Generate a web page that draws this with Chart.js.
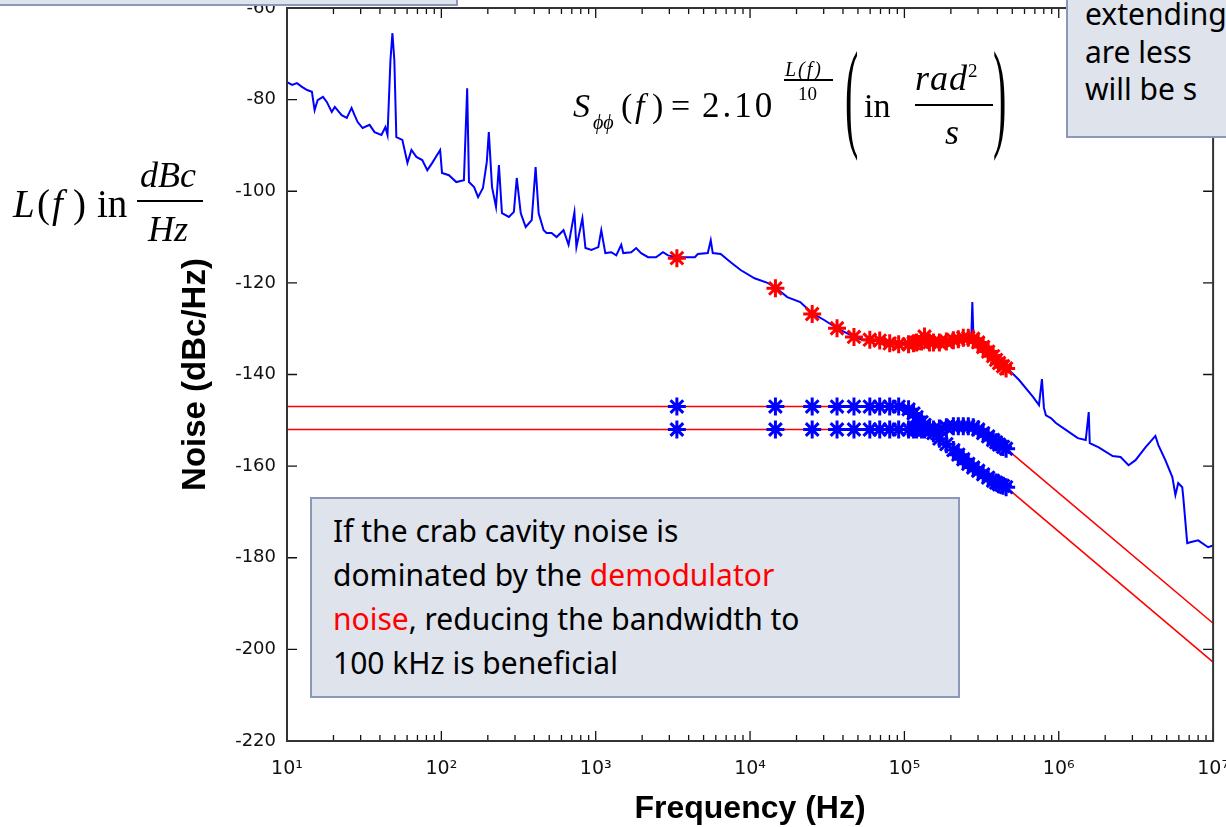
<!DOCTYPE html>
<html>
<head>
<meta charset="utf-8">
<script src="https://cdn.jsdelivr.net/npm/chart.js@4.4.1/dist/chart.umd.min.js"></script>
<style>
html, body { margin: 0; padding: 0; width: 1226px; height: 827px; overflow: hidden; background: #fff; }
#c { position: absolute; left: 0; top: -20px; }
.box { position: absolute; box-sizing: border-box; background: #dfe3ec; border: 2px solid #8d97b8; }
.note { position: absolute; font-family: "Comic Sans MS", "Noto Sans", sans-serif; font-size: 30px; color: #000; white-space: nowrap; }
.m { position: absolute; font-family: "Liberation Serif", "DejaVu Serif", serif; line-height: 1; white-space: nowrap; color: #000; }
.bar { position: absolute; background: #000; height: 1.5px; }
</style>
</head>
<body>
<canvas id="c" width="1246" height="847"></canvas>
<div class="box" style="left:-2px;top:-40px;width:460px;height:46px"></div>
<div class="box" style="left:1066px;top:-4px;width:180px;height:142px"></div>
<div class="note" style="left:1085px;top:-5px;line-height:37.5px">extending<br>are less<br>will be s</div>
<div class="box" style="left:310px;top:497px;width:650px;height:201px"></div>
<div class="note" style="left:333px;top:509px;line-height:44px">If the crab cavity noise is<br>dominated by the <span style="color:#f00">demodulator</span><br><span style="color:#f00">noise</span>, reducing the bandwidth to<br>100 kHz is beneficial</div>
<div id="math"></div>
<script>
// measured phase noise (blue trace)
const measFreq = [10, 10.8, 11.6, 12.5, 13.5, 14.5, 15.1, 15.8, 17.1, 18.1, 19.5, 20.4, 22.6, 24.4, 26.2, 27.4, 28.7, 30.9, 34.3, 36.9,
  40.9, 43.4, 44.8, 46.8, 48.2, 49.6, 51.1, 55.9, 60.3, 64.0, 68.9, 75.2, 81.1, 87.3, 98.2, 101, 112, 125, 140, 147,
  151, 163, 173, 186, 197, 203, 213, 226, 236, 247, 274, 295, 308, 327, 352, 385, 408, 427, 460, 481,
  518, 558, 619, 667, 728, 750, 820, 858, 938, 1040, 1087, 1154, 1262, 1359, 1464, 1508, 1698, 1829, 1969, 2184,
  2459, 2729, 2939, 3357, 3782, 4387, 4590, 5325, 5565, 5733, 6454, 7488, 8686, 10690, 12970, 14600, 17430, 21130, 25270, 30200,
  36610, 47130, 54660, 69340, 89190, 114700, 145500, 187400, 241100, 271500, 275500, 279800, 324600, 393700, 456400, 553500, 680900, 744800, 778000, 801700,
  826000, 889500, 958400, 1112000, 1328000, 1496000, 1564000, 1588000, 1815000, 2235000, 2515000, 2833000, 3143000, 3645000, 4229000, 4420000, 4906000, 5444000, 5698000, 5946000,
  6310000, 6409000, 6798000, 7107000, 8003000, 9284000, 10000000];
const measNoise = [-76.2, -76.8, -76.4, -77.2, -77.9, -78.3, -82.3, -80.1, -79.4, -80.5, -82.7, -81.6, -83.4, -84.0, -81.8, -83.4, -84.9, -86.2, -85.5, -87.1,
  -87.7, -86.0, -87.7, -71.4, -65.5, -71.4, -88.2, -88.8, -93.8, -91.0, -92.5, -93.2, -95.4, -93.8, -91.0, -96.0, -96.5, -98.0, -97.6, -77.5,
  -98.0, -99.1, -101.3, -99.3, -93.6, -87.1, -99.1, -103.4, -94.3, -104.8, -105.6, -104.5, -97.1, -104.8, -107.8, -106.3, -94.7, -104.8, -108.5, -109.1,
  -109.1, -110.0, -108.5, -111.7, -104.6, -112.2, -105.9, -112.4, -112.8, -112.2, -108.5, -113.5, -113.3, -114.0, -111.7, -113.5, -113.3, -112.4, -113.5, -114.4,
  -114.4, -113.3, -114.0, -114.4, -114.4, -114.4, -113.7, -113.5, -110.7, -113.5, -113.7, -115.5, -117.2, -119.0, -120.0, -121.0, -123.1, -124.2, -126.6, -128.1,
  -129.9, -131.8, -132.5, -132.5, -133.1, -133.1, -132.9, -132.5, -132.0, -131.4, -124.2, -131.4, -133.1, -136.2, -138.4, -141.2, -144.9, -146.7, -141.0, -147.3,
  -148.9, -149.5, -150.6, -152.1, -153.9, -154.3, -148.2, -155.0, -155.9, -157.8, -158.0, -159.8, -158.7, -155.9, -153.4, -155.4, -158.7, -162.4, -166.3, -163.7,
  -164.6, -166.8, -176.8, -176.6, -176.2, -177.7, -177.3];

// asterisk markers (same frequencies for the three marker series)
const starFreq = [3357, 14600, 25270, 36610, 47130, 59700, 69200, 80300, 91800, 106400, 114600, 119900, 129100, 135000, 145300, 154200,
  168600, 187100, 207600, 223500, 240700, 259300, 279200, 300700, 323800, 349000, 375600, 392700, 410500, 435700, 456100];
const starMeas = [-114.6, -121.2, -126.8, -129.9, -131.8, -132.4, -132.6, -133.2, -133.4, -133.4, -133.2, -133.0, -132.8, -131.7, -133.0, -133.0,
  -133.0, -132.8, -132.5, -132.3, -132.0, -132.0, -132.2, -133.0, -134.0, -135.0, -136.0, -136.8, -137.5, -138.2, -138.7];
const starUpper = [-147.0, -147.0, -147.0, -147.0, -147.0, -147.0, -147.0, -147.0, -147.0, -147.6, -148.5, -149.3, -150.4, -151.0, -152.0, -152.8,
  -154.0, -155.2, -156.5, -157.5, -158.5, -159.5, -160.3, -161.0, -161.8, -162.5, -163.2, -163.6, -164.0, -164.3, -164.6];
const starLower = [-152.0, -152.0, -152.0, -152.0, -152.0, -152.0, -152.0, -152.0, -152.0, -152.0, -152.0, -152.0, -152.0, -152.0, -152.0, -152.0,
  -151.8, -151.5, -151.3, -151.3, -151.3, -151.3, -151.5, -152.0, -152.8, -153.5, -154.3, -154.8, -155.3, -155.8, -156.2];
const flatEnd = 47130;

// red extrapolation lines
const redFreq = [10, 47130, 100000, 456100, 10000000];
const redUpper = [-147.0, -147.0, null, -164.6, -202.8];
const redLower = [-152.0, -152.0, null, -156.2, -194.3];

const xTickValues = [10, 100, 1000, 10000, 100000, 1000000, 10000000];
const xTickLabels = ['10¹', '10²', '10³', '10⁴', '10⁵', '10⁶', '10⁷'];

const pts = (xs, ys) => xs.map((x, i) => ({ x: x, y: ys[i] }));

// inward ticks and frame, matlab style
const frameTicks = {
  id: 'frameTicks',
  afterDatasetsDraw(chart) {
    const { ctx, chartArea: a, scales: { x, y } } = chart;
    ctx.save();
    ctx.strokeStyle = '#111';
    ctx.lineWidth = 1.3;
    ctx.beginPath();
    const vt = (px, len) => {
      ctx.moveTo(px, a.bottom); ctx.lineTo(px, a.bottom - len);
      ctx.moveTo(px, a.top); ctx.lineTo(px, a.top + len);
    };
    xTickValues.forEach((d, i) => {
      vt(x.getPixelForValue(d), 10);
      if (i < xTickValues.length - 1) {
        for (let k = 2; k < 10; k++) vt(x.getPixelForValue(d * k), 6);
      }
    });
    for (let v = -220; v <= -60; v += 20) {
      const py = y.getPixelForValue(v);
      ctx.moveTo(a.left, py); ctx.lineTo(a.left + 10, py);
      ctx.moveTo(a.right, py); ctx.lineTo(a.right - 10, py);
    }
    ctx.stroke();
    ctx.strokeStyle = '#333';
    ctx.lineWidth = 2;
    ctx.strokeRect(a.left, a.top, a.right - a.left, a.bottom - a.top);
    ctx.restore();
  }
};

const starStyle = (color) => ({
  pointStyle: 'star',
  pointRadius: 9,
  pointBorderWidth: 3,
  pointBorderColor: color,
  pointBackgroundColor: color
});
const hideFlat = { borderColor: c => c.p1.parsed.x <= flatEnd ? 'rgba(0,0,0,0)' : undefined };

new Chart(document.getElementById('c'), {
  type: 'line',
  data: {
    datasets: [
      Object.assign({ data: pts(starFreq, starMeas), showLine: false, order: 0 }, starStyle('#ff0000')),
      {
        data: pts(measFreq, measNoise),
        borderColor: '#0000ff',
        borderWidth: 2,
        pointRadius: 0,
        order: 1
      },
      Object.assign({ data: pts(starFreq, starUpper), borderColor: '#0000ff', borderWidth: 2, segment: hideFlat, order: 2 }, starStyle('#0000ff')),
      Object.assign({ data: pts(starFreq, starLower), borderColor: '#0000ff', borderWidth: 2, segment: hideFlat, order: 2 }, starStyle('#0000ff')),
      {
        data: pts(redFreq, redUpper),
        borderColor: '#ff0000',
        borderWidth: 1.6,
        pointRadius: 0,
        spanGaps: false,
        order: 3
      },
      {
        data: pts(redFreq, redLower),
        borderColor: '#ff0000',
        borderWidth: 1.6,
        pointRadius: 0,
        spanGaps: false,
        order: 3
      }
    ]
  },
  options: {
    responsive: false,
    animation: false,
    devicePixelRatio: 1,
    layout: { padding: { top: 28, right: 28, left: 0, bottom: 0 } },
    elements: { line: { tension: 0 } },
    plugins: { legend: { display: false }, tooltip: { enabled: false } },
    scales: {
      x: {
        type: 'logarithmic',
        min: 10,
        max: 10000000,
        afterBuildTicks: s => { s.ticks = xTickValues.map(v => ({ value: v })); },
        afterFit: s => { s.height = 86; },
        grid: { display: false, drawTicks: false },
        border: { display: false },
        ticks: {
          autoSkip: false,
          maxRotation: 0,
          padding: 17,
          color: '#111',
          font: { family: 'DejaVu Sans', size: 19 },
          callback: v => xTickLabels[xTickValues.indexOf(v)]
        },
        title: {
          display: true,
          text: 'Frequency (Hz)',
          color: '#000',
          padding: { top: 0, bottom: 2 },
          font: { family: 'Liberation Sans', weight: 'bold', size: 32, lineHeight: 1 }
        }
      },
      y: {
        min: -220,
        max: -60,
        afterFit: s => { s.width = 287; },
        grid: { display: false, drawTicks: false },
        border: { display: false },
        ticks: {
          stepSize: 20,
          padding: 11,
          color: '#111',
          font: { family: 'DejaVu Sans', size: 18 }
        },
        title: {
          display: true,
          text: 'Noise (dBc/Hz)',
          color: '#000',
          padding: { top: 179, bottom: 0 },
          font: { family: 'Liberation Sans', weight: 'bold', size: 33, lineHeight: 1 }
        }
      }
    }
  },
  plugins: [frameTicks]
});

// formula annotations
const math = document.getElementById('math');
function put(txt, x, base, size, italic, extra) {
  const s = document.createElement('span');
  s.className = 'm';
  s.textContent = txt;
  s.style.left = x + 'px';
  s.style.top = (base - 0.8375 * size) + 'px';
  s.style.fontSize = size + 'px';
  if (italic) s.style.fontStyle = 'italic';
  if (extra) Object.assign(s.style, extra);
  math.appendChild(s);
}
function bar(x, y, w) {
  const b = document.createElement('div');
  b.className = 'bar';
  b.style.left = x + 'px';
  b.style.top = y + 'px';
  b.style.width = w + 'px';
  math.appendChild(b);
}
function paren(txt, x, yc, h) {
  const size = 40;
  const c = 23.2;
  put(txt, x, yc - c + 0.8375 * size, size, false, {
    transformOrigin: '50% ' + c + 'px',
    transform: 'scaleY(' + (h / (0.871 * size)).toFixed(3) + ')'
  });
}

put('L', 13, 217, 39, true);
put('(', 37, 217, 39, false);
put('f', 52, 217, 39, true);
put(')', 73, 217, 39, false);
put('in', 97, 217, 39, false);
put('dBc', 140, 187, 36, true);
bar(137, 200, 66);
put('Hz', 148, 241, 36, true);

put('S', 573, 117, 34, true);
put('ϕϕ', 593, 129, 20, true);
put('(', 621, 117, 34, false);
put('f', 635, 117, 34, true);
put(')', 652, 117, 34, false);
put('=', 671, 117, 34, false);
put('2.10', 702, 117, 35, false, { letterSpacing: '3px' });
put('L(f)', 785, 76, 20, true, { letterSpacing: '2px' });
bar(784, 79, 49);
put('10', 798, 100, 19, false);
paren('(', 845, 105, 106);
put('in', 864, 117, 34, false);
put('rad', 915, 90, 36, true, { letterSpacing: '1px' });
put('2', 968, 77, 19, false);
bar(915, 104, 78);
put('s', 945, 144, 36, true);
paren(')', 993, 105, 106);
</script>
</body>
</html>
